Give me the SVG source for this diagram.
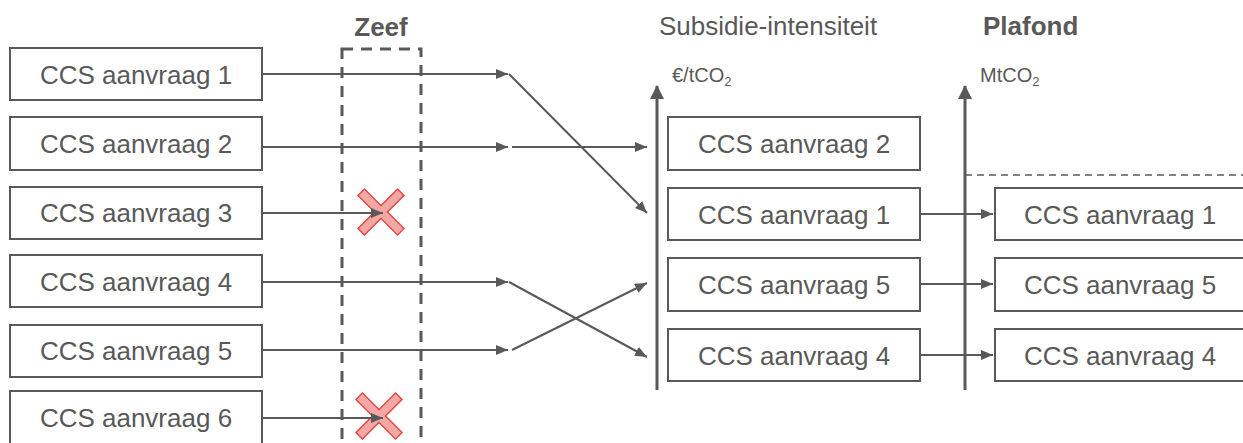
<svg xmlns="http://www.w3.org/2000/svg" width="1243" height="443" viewBox="0 0 1243 443">
<style>
.box{fill:#fff;stroke:#595959;stroke-width:2}
.lbl{font-family:"Liberation Sans",Arial,sans-serif;font-size:26px;fill:#595959;text-anchor:middle}
.ttl{font-family:"Liberation Sans",Arial,sans-serif;font-size:26px;fill:#595959}
.unit{font-family:"Liberation Sans",Arial,sans-serif;font-size:20px;fill:#595959}
.ln{fill:none;stroke:#595959;stroke-width:2}
.ax{fill:none;stroke:#595959;stroke-width:3}
.xm{fill:#f4a8a6;stroke:#e8453f;stroke-width:1.5}
</style>
<defs>
<marker id="ah" markerWidth="12" markerHeight="10" refX="12" refY="5" orient="auto" markerUnits="userSpaceOnUse">
<path d="M0,0 L12,5 L0,10 Z" fill="#595959"/>
</marker>
<marker id="axh" markerWidth="14" markerHeight="14" refX="13" refY="7" orient="auto" markerUnits="userSpaceOnUse">
<path d="M0,0 L14,7 L0,14 Z" fill="#595959"/>
</marker>
</defs>
<rect width="1243" height="443" fill="#fff"/>

<g id="titles">
<text class="ttl" x="381" y="36" text-anchor="middle" font-weight="bold">Zeef</text>
<text class="ttl" x="768" y="35" text-anchor="middle">Subsidie-intensiteit</text>
<text class="ttl" x="983" y="35" font-weight="bold">Plafond</text>
<text class="unit" x="672" y="82">€/tCO<tspan font-size="13" dy="4">2</tspan></text>
<text class="unit" x="980" y="82">MtCO<tspan font-size="13" dy="4">2</tspan></text>
</g>

<g id="zeef">
<rect x="342" y="49" width="79" height="420" fill="none" stroke="#595959" stroke-width="3" stroke-dasharray="11 8"/>
</g>

<g id="axes">
<line class="ax" x1="657" y1="390" x2="657" y2="86" marker-end="url(#axh)"/>
<line class="ax" x1="965" y1="390" x2="965" y2="86" marker-end="url(#axh)"/>
<line x1="965" y1="175" x2="1243" y2="175" stroke="#595959" stroke-width="1.5" stroke-dasharray="7 5"/>
</g>

<g id="left-nodes">
<g id="l1"><rect class="box" x="10" y="48" width="252" height="52"/><text class="lbl" x="136" y="83.5">CCS aanvraag 1</text></g>
<g id="l2"><rect class="box" x="10" y="117" width="252" height="53"/><text class="lbl" x="136" y="153">CCS aanvraag 2</text></g>
<g id="l3"><rect class="box" x="10" y="187" width="252" height="52"/><text class="lbl" x="136" y="222">CCS aanvraag 3</text></g>
<g id="l4"><rect class="box" x="10" y="255" width="252" height="52"/><text class="lbl" x="136" y="290.5">CCS aanvraag 4</text></g>
<g id="l5"><rect class="box" x="10" y="325" width="252" height="52"/><text class="lbl" x="136" y="360">CCS aanvraag 5</text></g>
<g id="l6"><rect class="box" x="10" y="391" width="252" height="60"/><text class="lbl" x="136" y="427">CCS aanvraag 6</text></g>
</g>

<g id="mid-nodes">
<g id="m2"><rect class="box" x="668" y="117" width="252" height="53"/><text class="lbl" x="794" y="153">CCS aanvraag 2</text></g>
<g id="m1"><rect class="box" x="668" y="188" width="252" height="52"/><text class="lbl" x="794" y="223.5">CCS aanvraag 1</text></g>
<g id="m5"><rect class="box" x="668" y="258" width="252" height="53"/><text class="lbl" x="794" y="294">CCS aanvraag 5</text></g>
<g id="m4"><rect class="box" x="668" y="329" width="252" height="52"/><text class="lbl" x="794" y="364.5">CCS aanvraag 4</text></g>
</g>

<g id="right-nodes">
<g id="r1"><rect class="box" x="995" y="188" width="252" height="52"/><text class="lbl" x="1120" y="223.5">CCS aanvraag 1</text></g>
<g id="r5"><rect class="box" x="995" y="258" width="252" height="53"/><text class="lbl" x="1120" y="294">CCS aanvraag 5</text></g>
<g id="r4"><rect class="box" x="995" y="329" width="252" height="52"/><text class="lbl" x="1120" y="364.5">CCS aanvraag 4</text></g>
</g>

<g id="rejects">
<g transform="translate(381,212) rotate(45)"><rect class="xm" x="-28" y="-4.5" width="56" height="9"/><rect class="xm" x="-4.5" y="-28" width="9" height="56"/><rect x="-27.2" y="-3.7" width="54.4" height="7.4" fill="#f4a8a6"/></g>
<g transform="translate(379,416) rotate(45)"><rect class="xm" x="-28" y="-4.5" width="56" height="9"/><rect class="xm" x="-4.5" y="-28" width="9" height="56"/><rect x="-27.2" y="-3.7" width="54.4" height="7.4" fill="#f4a8a6"/></g>
</g>

<g id="connectors">
<line class="ln" x1="262" y1="74" x2="508" y2="74" marker-end="url(#ah)"/>
<line class="ln" x1="262" y1="147" x2="508" y2="147" marker-end="url(#ah)"/>
<line class="ln" x1="262" y1="213" x2="383" y2="213" marker-end="url(#ah)"/>
<line class="ln" x1="262" y1="282" x2="508" y2="282" marker-end="url(#ah)"/>
<line class="ln" x1="262" y1="350" x2="508" y2="350" marker-end="url(#ah)"/>
<line class="ln" x1="262" y1="418" x2="383" y2="418" marker-end="url(#ah)"/>
<line class="ln" x1="509" y1="74" x2="647" y2="213" marker-end="url(#ah)"/>
<line class="ln" x1="512" y1="147" x2="647" y2="147" marker-end="url(#ah)"/>
<line class="ln" x1="509" y1="282" x2="647" y2="357" marker-end="url(#ah)"/>
<line class="ln" x1="512" y1="350" x2="647" y2="283" marker-end="url(#ah)"/>
<line class="ln" x1="920" y1="214" x2="993" y2="214" marker-end="url(#ah)"/>
<line class="ln" x1="920" y1="284" x2="993" y2="284" marker-end="url(#ah)"/>
<line class="ln" x1="920" y1="355" x2="993" y2="355" marker-end="url(#ah)"/>
</g>
</svg>
